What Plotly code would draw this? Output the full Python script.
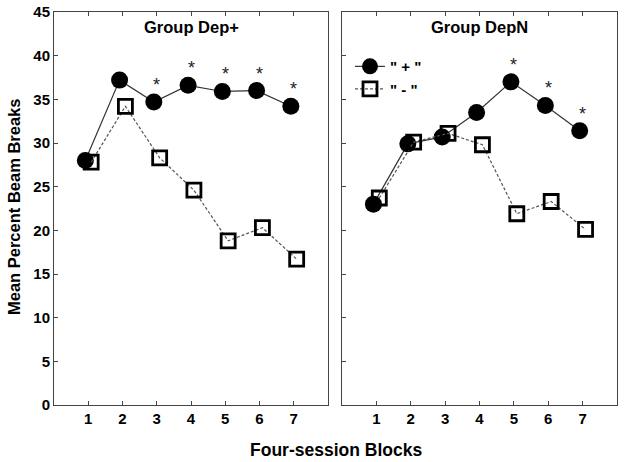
import plotly.graph_objects as go

blocks = [1, 2, 3, 4, 5, 6, 7]
tick_labels = ["1", "2", "3", "4", "5", "6", "7"]

dep_plus_pos = [28.0, 37.2, 34.7, 36.6, 35.9, 36.0, 34.2]
dep_plus_neg = [27.8, 34.2, 28.3, 24.6, 18.8, 20.3, 16.7]
dep_plus_sig = [3, 4, 5, 6, 7]

depn_pos = [23.0, 29.9, 30.7, 33.5, 37.0, 34.3, 31.4]
depn_neg = [23.7, 30.1, 31.1, 29.8, 21.9, 23.3, 20.1]
depn_sig = [5, 6, 7]

panel_titles = ["Group Dep+", "Group DepN"]
series_names = ['" + "', '" - "']

FONT = "Liberation Sans, Arial, sans-serif"

fig = go.Figure()

panels = [
    ("x", "y", dep_plus_pos, dep_plus_neg, dep_plus_sig, False),
    ("x2", "y2", depn_pos, depn_neg, depn_sig, True),
]

for xa, ya, pos, neg, sig, show in panels:
    fig.add_trace(go.Scatter(
        x=blocks, y=pos, xaxis=xa, yaxis=ya, mode="lines+markers",
        name="<b>" + series_names[0] + "</b>", legendgroup="pos", showlegend=show,
        offsetgroup="a",
        line=dict(color="#333333", width=1.2),
        marker=dict(symbol="circle", size=17, color="black"),
    ))
    fig.add_trace(go.Scatter(
        x=blocks, y=neg, xaxis=xa, yaxis=ya, mode="lines+markers",
        name="<b>" + series_names[1] + "</b>", legendgroup="neg", showlegend=show,
        offsetgroup="b",
        line=dict(color="#555555", width=1.2, dash="3px,2px"),
        marker=dict(symbol="square-open", size=14, color="black",
                    line=dict(width=2.8, color="black")),
    ))
    for s in sig:
        fig.add_annotation(
            x=s, y=pos[blocks.index(s)], xref=xa, yref=ya,
            text="*", showarrow=False, yshift=17,
            font=dict(family=FONT, size=18, color="#222222"),
        )

tickfont = dict(family=FONT, size=15, color="black")

axis_common = dict(
    range=[0, 8], tickvals=blocks, ticktext=["<b>%s</b>" % t for t in tick_labels],
    showgrid=False, zeroline=False, showline=True, linecolor="#444444",
    linewidth=1, mirror="ticks", ticks="inside", ticklen=4, tickcolor="#444444",
    tickfont=tickfont, automargin=False,
)
yvals = list(range(0, 50, 5))
yaxis_common = dict(
    range=[0, 45], tickvals=yvals, ticktext=["<b>%d</b>" % v for v in yvals],
    showgrid=False, zeroline=False, showline=True,
    linecolor="#444444", linewidth=1, mirror=True, ticks="inside", ticklen=4,
    tickcolor="#444444", tickfont=tickfont, automargin=False,
)

d1 = (328 - 54) / 563
d2 = (342 - 54) / 563

fig.update_layout(
    width=624, height=462,
    margin=dict(l=54, r=7, t=12, b=57, autoexpand=False),
    paper_bgcolor="white", plot_bgcolor="white",
    scattermode="group", scattergap=0.66,
    xaxis=dict(domain=[0, d1], anchor="y", **axis_common),
    xaxis2=dict(domain=[d2, 1], anchor="y2", **axis_common),
    yaxis=dict(domain=[0, 1], anchor="x", showticklabels=True, **yaxis_common),
    yaxis2=dict(domain=[0, 1], anchor="x2", showticklabels=False, **yaxis_common),
    legend=dict(
        x=(350 - 54) / 563, y=0.903, xanchor="left", yanchor="top",
        bgcolor="rgba(0,0,0,0)", font=dict(family=FONT, size=15, color="black"),
        tracegroupgap=0, itemwidth=30,
    ),
    showlegend=True,
)

fig.add_annotation(x=0.5, y=0.962, xref="x domain", yref="paper", text="<b>%s</b>" % panel_titles[0],
                   showarrow=False, yanchor="middle", font=dict(family=FONT, size=16.5, color="black"))
fig.add_annotation(x=0.5, y=0.962, xref="x2 domain", yref="paper", text="<b>%s</b>" % panel_titles[1],
                   showarrow=False, yanchor="middle", font=dict(family=FONT, size=16.5, color="black"))
fig.add_annotation(x=0.5, y=-0.115, xref="paper", yref="paper", text="<b>Four-session Blocks</b>",
                   showarrow=False, yanchor="middle", font=dict(family=FONT, size=17.5, color="black"))
fig.add_annotation(x=-0.072, y=0.505, xref="paper", yref="paper", text="<b>Mean Percent Beam Breaks</b>",
                   showarrow=False, textangle=-90, xanchor="center", yanchor="middle",
                   font=dict(family=FONT, size=16.5, color="black"))

fig.write_html("out.html", post_script="document.body.style.margin='0';",
               config={"displayModeBar": False})
